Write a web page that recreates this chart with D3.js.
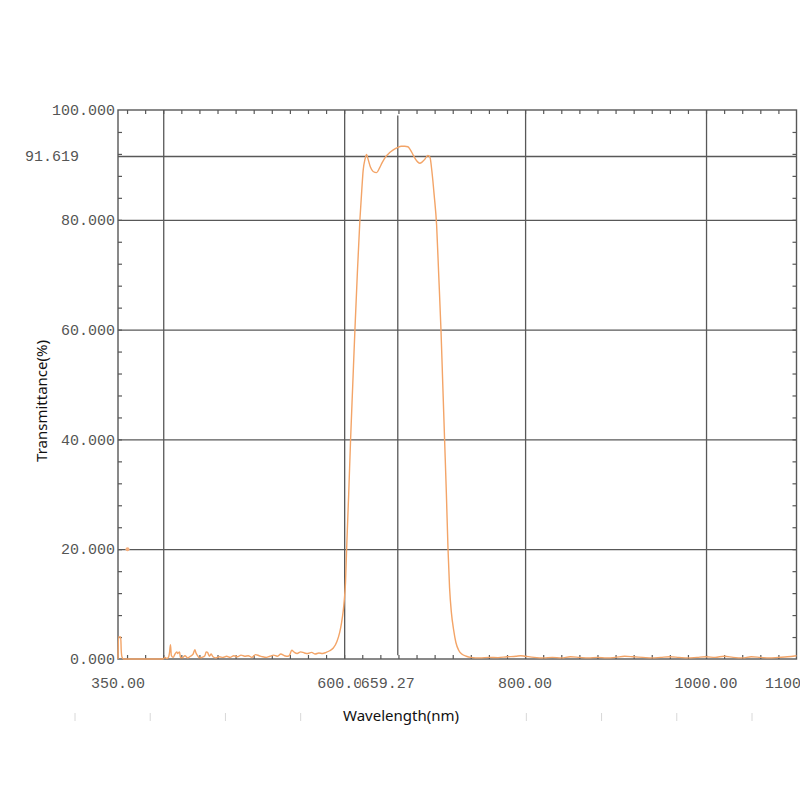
<!DOCTYPE html>
<html>
<head>
<meta charset="utf-8">
<script src="https://cdn.jsdelivr.net/npm/d3@7.9.0/dist/d3.min.js"></script>
<style>
  html, body { margin: 0; padding: 0; background: #fff; }
  svg { display: block; }
</style>
</head>
<body>
<div id="chart"></div>
<script>
// wavelength (nm) and transmittance (%)
const wavelength = [
  350, 350.6, 351, 353, 353.6, 354.5, 356, 380, 400,
  402, 404, 406, 407, 408, 409, 411, 413, 415, 416, 418, 419, 421, 424, 427,
  430, 433, 435, 436, 438, 440, 443, 446, 447.5, 449, 451, 453, 455, 458,
  462, 466, 470, 474, 478, 482, 486, 490, 494, 498, 502, 506, 510, 514,
  518, 522, 526, 530, 534, 538, 540, 542, 545, 548, 552, 556, 560, 564,
  568, 572, 576, 580, 584, 588, 592, 595, 597, 599, 600, 601.5, 602.7,
  605, 607.1, 609.5, 611.9, 614.5, 617.4, 619.5, 621, 623, 624.8, 626.5,
  629, 632, 635.9, 639, 642, 646, 650, 653.9, 657, 659.4, 663, 667, 670.4,
  673, 676, 679, 681.5, 683.7, 686, 689, 692.5, 694.8, 697, 699.5, 702.2,
  704.5, 707, 709, 711, 713, 714.8, 716.5, 718.5, 721, 723.5, 726.6, 730,
  735, 740, 750, 760, 770, 780, 790, 795, 800, 810, 820, 830, 840, 850,
  860, 870, 880, 890, 900, 910, 920, 930, 940, 950, 960, 970, 980, 990,
  1000, 1010, 1020, 1030, 1040, 1050, 1060, 1070, 1080, 1090, 1100
];
const transmittance = [
  0, 4, 4, 4, 1.5, 0.3, 0, 0, 0,
  0.3, 0.1, 0.4, 1.2, 2.6, 0.6, 0.3, 0.9, 1.3, 1.0, 1.3, 0.3, 0.2, 0.6, 0.2,
  0.5, 0.9, 1.7, 1.2, 0.6, 0.2, 0.3, 0.6, 1.3, 1.2, 0.5, 0.9, 0.4, 0.2,
  0.4, 0.3, 0.5, 0.3, 0.6, 0.4, 0.7, 0.5, 0.6, 0.3, 0.8, 0.6, 0.4, 0.3,
  0.5, 0.7, 0.5, 0.9, 0.6, 0.5, 0.8, 1.6, 1.2, 1.0, 1.3, 1.1, 1.0, 1.2,
  0.9, 1.1, 1.0, 1.2, 1.5, 2.0, 3.2, 4.8, 6.5, 8.8, 10.5, 14, 20,
  30, 40, 50, 60, 70, 80, 85.5, 89, 91, 91.9, 91.0,
  89.6, 88.8, 88.6, 89.4, 90.4, 91.5, 92.2, 92.7, 93.0, 93.2, 93.4, 93.4, 93.3,
  92.8, 91.9, 91.0, 90.5, 90.3, 90.5, 91.0, 91.7, 91.4, 88.8, 84.5, 79,
  70, 60, 50, 40, 30, 20, 13, 8.5, 5.3, 3.0, 1.6, 0.9,
  0.5, 0.3, 0.2, 0.3, 0.25, 0.4, 0.5, 0.6, 0.5, 0.3, 0.2, 0.3, 0.2, 0.4,
  0.3, 0.2, 0.3, 0.2, 0.3, 0.5, 0.4, 0.3, 0.2, 0.3, 0.4, 0.3, 0.2, 0.3,
  0.4, 0.3, 0.5, 0.3, 0.2, 0.4, 0.3, 0.2, 0.3, 0.4, 0.6
];

// stray mark next to the 20.000 label
const strayPoint = [[360.5, 20]];

const xGrid = [400, 600, 800, 1000];
const yGrid = [20, 40, 60, 80];
const peakT = 91.619;
const centerWl = 659.27;
const xLabels = [
  { v: 350, text: '350.00' },
  { v: 600, text: '600.00' },
  { v: 800, text: '800.00' },
  { v: 1000, text: '1000.00' },
  { v: 1100, text: '1100.00' }
];
const yLabels = [0, 20, 40, 60, 80, 100];

const width = 800;
const height = 800;
const margin = { top: 110, right: 3.5, bottom: 141, left: 118 };

const svg = d3.select('#chart')
  .append('svg')
  .attr('width', width)
  .attr('height', height);

const x = d3.scaleLinear()
  .domain([350, 1100])
  .range([margin.left, width - margin.right]);

const y = d3.scaleLinear()
  .domain([0, 100])
  .range([height - margin.bottom, margin.top]);

const plotW = x.range()[1] - x.range()[0];
const plotH = y.range()[0] - y.range()[1];
const gridColor = '#585858';
const labelColor = '#555';
const monoFont = '"Liberation Mono", "DejaVu Sans Mono", monospace';

// faint ruler marks under the chart
const ruler = d3.scaleLinear().domain([0, 9]).range([75, 752]);
svg.append('g')
  .selectAll('line')
  .data(d3.range(0, 10).filter(i => i !== 4 && i !== 5))
  .join('line')
  .attr('x1', d => ruler(d))
  .attr('x2', d => ruler(d))
  .attr('y1', 713)
  .attr('y2', 721)
  .attr('stroke', '#d8d8d8')
  .attr('stroke-width', 1);

// vertical gridlines
svg.append('g')
  .attr('class', 'grid')
  .attr('transform', `translate(0, ${y(0)})`)
  .call(d3.axisBottom(x).tickValues(xGrid).tickSize(-plotH).tickSizeOuter(0).tickFormat(''))
  .call(g => g.select('.domain').remove())
  .call(g => g.selectAll('line').attr('stroke', gridColor).attr('stroke-width', 1.3));

// horizontal gridlines
svg.append('g')
  .attr('class', 'grid')
  .attr('transform', `translate(${x(350)}, 0)`)
  .call(d3.axisLeft(y).tickValues(yGrid.concat([peakT])).tickSize(-plotW).tickSizeOuter(0).tickFormat(''))
  .call(g => g.select('.domain').remove())
  .call(g => g.selectAll('line').attr('stroke', gridColor).attr('stroke-width', 1.3));

// minor ticks, pointing inward on all four sides
const xMinor = d3.range(360, 1100, 20);
const yMinor = d3.range(4, 100, 4);
function styleMinor(g) {
  g.select('.domain').remove();
  g.selectAll('line').attr('stroke', gridColor).attr('stroke-width', 1.2);
}
svg.append('g')
  .attr('transform', `translate(0, ${y(0)})`)
  .call(d3.axisBottom(x).tickValues(xMinor).tickSize(-4).tickFormat(''))
  .call(styleMinor);
svg.append('g')
  .attr('transform', `translate(0, ${y(100)})`)
  .call(d3.axisTop(x).tickValues(xMinor).tickSize(-4).tickFormat(''))
  .call(styleMinor);
svg.append('g')
  .attr('transform', `translate(${x(350)}, 0)`)
  .call(d3.axisLeft(y).tickValues(yMinor).tickSize(-4).tickFormat(''))
  .call(styleMinor);
svg.append('g')
  .attr('transform', `translate(${x(1100)}, 0)`)
  .call(d3.axisRight(y).tickValues(yMinor).tickSize(-4).tickFormat(''))
  .call(styleMinor);

// frame
svg.append('rect')
  .attr('x', x(350))
  .attr('y', y(100))
  .attr('width', plotW)
  .attr('height', plotH)
  .attr('fill', 'none')
  .attr('stroke', gridColor)
  .attr('stroke-width', 1.4);

// centre wavelength marker
svg.append('line')
  .attr('x1', x(centerWl))
  .attr('x2', x(centerWl))
  .attr('y1', y(99))
  .attr('y2', y(0.7))
  .attr('stroke', gridColor)
  .attr('stroke-width', 1.3);

// transmittance curve
const points = wavelength.map((w, i) => [w, transmittance[i]]);
const line = d3.line()
  .x(d => x(d[0]))
  .y(d => y(d[1]))
  .curve(d3.curveMonotoneX);

svg.append('path')
  .datum(points)
  .attr('d', line)
  .attr('fill', 'none')
  .attr('stroke', '#f3a467')
  .attr('stroke-width', 1.4)
  .attr('stroke-linejoin', 'round');

svg.append('g')
  .selectAll('circle')
  .data(strayPoint)
  .join('circle')
  .attr('cx', d => x(d[0]))
  .attr('cy', d => y(d[1]))
  .attr('r', 2)
  .attr('fill', '#f5b080');

// y tick labels
svg.append('g')
  .selectAll('text')
  .data(yLabels)
  .join('text')
  .attr('x', x(350) - 3)
  .attr('y', d => y(d))
  .attr('dy', '0.35em')
  .attr('text-anchor', 'end')
  .attr('font-family', monoFont)
  .attr('font-size', 15)
  .attr('fill', labelColor)
  .text(d => d3.format('.3f')(d));

svg.append('text')
  .attr('x', 25)
  .attr('y', y(peakT))
  .attr('dy', '0.35em')
  .attr('font-family', monoFont)
  .attr('font-size', 15)
  .attr('fill', labelColor)
  .text(d3.format('.3f')(peakT));

// x tick labels
const xLab = svg.append('g')
  .attr('font-family', monoFont)
  .attr('font-size', 15)
  .attr('fill', labelColor);

xLab.selectAll('text')
  .data(xLabels)
  .join('text')
  .attr('x', d => x(d.v))
  .attr('y', y(0) + 29)
  .attr('text-anchor', 'middle')
  .text(d => d.text);

// centre wavelength label sits on top of "600.00"
const cLabel = xLab.append('g');
cLabel.append('rect')
  .attr('x', x(centerWl) - 37)
  .attr('y', y(0) + 16)
  .attr('width', 56)
  .attr('height', 18)
  .attr('fill', '#fff');
cLabel.append('text')
  .attr('x', x(centerWl) - 10)
  .attr('y', y(0) + 29)
  .attr('text-anchor', 'middle')
  .text(d3.format('.2f')(centerWl));

// axis titles
svg.append('text')
  .attr('x', 401)
  .attr('y', 721)
  .attr('text-anchor', 'middle')
  .attr('font-family', '"Noto Sans", sans-serif')
  .attr('font-size', 15)
  .attr('fill', '#111')
  .text('Wavelength(nm)');

svg.append('text')
  .attr('transform', 'translate(47, 401) rotate(-90)')
  .attr('text-anchor', 'middle')
  .attr('font-family', '"Noto Sans", sans-serif')
  .attr('font-size', 15)
  .attr('fill', '#111')
  .text('Transmittance(%)');
</script>
</body>
</html>
